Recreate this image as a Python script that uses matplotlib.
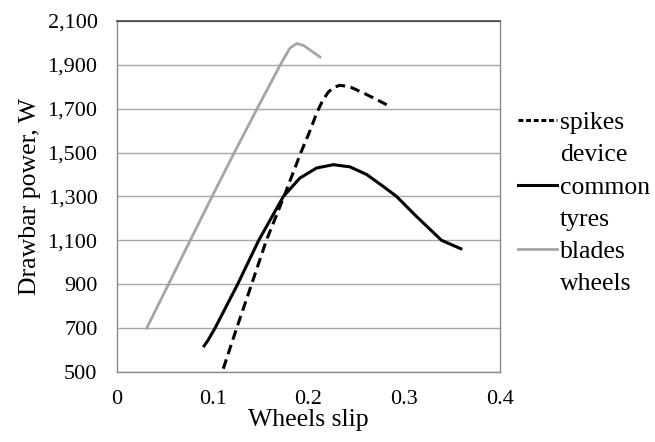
import matplotlib
matplotlib.use("Agg")
import matplotlib.pyplot as plt
from matplotlib.lines import Line2D
from matplotlib.ticker import FuncFormatter

plt.rcParams['font.family'] = ['Liberation Serif', 'DejaVu Serif']

# values
spikes_x = [0.111, 0.125, 0.1406, 0.156, 0.1744, 0.192, 0.2016, 0.2085, 0.2145, 0.2205, 0.2265,
            0.2329, 0.2433, 0.2572, 0.2712, 0.2817]
spikes_y = [515, 700, 900, 1100, 1300, 1500, 1600, 1680, 1735, 1775, 1798,
            1807, 1800, 1772, 1742, 1718]

tyres_x = [0.091, 0.0954, 0.1024, 0.126, 0.148, 0.1737, 0.191, 0.2085, 0.226, 0.2433,
           0.2608, 0.278, 0.292, 0.313, 0.339, 0.359]
tyres_y = [619, 647, 700, 900, 1100, 1300, 1384, 1430, 1445, 1435,
           1400, 1346, 1300, 1208, 1100, 1062]

blades_x = [0.031, 0.0538, 0.0765, 0.0993, 0.1225, 0.1463, 0.1705, 0.1807, 0.1877, 0.195, 0.212]
blades_y = [700, 900, 1100, 1300, 1500, 1700, 1900, 1977, 1997, 1988, 1936]

x_ticks = [0, 0.1, 0.2, 0.3, 0.4]
x_labels = ['0', '0.1', '0.2', '0.3', '0.4']
y_ticks = [500, 700, 900, 1100, 1300, 1500, 1700, 1900, 2100]

fig = plt.figure(figsize=(6.55, 4.42), dpi=100)
ax = fig.add_axes([0.1786, 0.1584, 0.5848, 0.7941])

ax.plot(spikes_x, spikes_y, color='black', lw=2.2, dashes=(3.2, 1.8))
ax.plot(tyres_x, tyres_y, color='black', lw=2.2)
ax.plot(blades_x, blades_y, color='#a5a5a5', lw=2.0)

ax.set_xlim(0, 0.4)
ax.set_ylim(500, 2100)
ax.set_xticks(x_ticks)
ax.set_xticklabels(x_labels)
ax.set_yticks(y_ticks)
ax.yaxis.set_major_formatter(FuncFormatter(lambda v, p: f"{int(v):,}"))
ax.tick_params(axis='both', length=0, labelsize=16)
ax.tick_params(axis='y', pad=14)
ax.tick_params(axis='x', pad=13)
ax.grid(axis='y', color='#a8a8a8', lw=1.0)
ax.set_axisbelow(True)
for s in ['left', 'bottom', 'right']:
    ax.spines[s].set_color('#8a8a8a')
    ax.spines[s].set_linewidth(1.0)
ax.spines['top'].set_color('#404040')
ax.spines['top'].set_linewidth(1.2)

ax.set_xlabel('Wheels slip', fontsize=18.5, labelpad=0)
ax.set_ylabel('Drawbar power, W', fontsize=18.5, labelpad=5)

blank = Line2D([], [], color='none')
handles = [Line2D([], [], color='black', lw=2.2, dashes=(1.6, 0.9)), blank,
           Line2D([], [], color='black', lw=2.2), blank,
           Line2D([], [], color='#a5a5a5', lw=2.0), blank]
labels = ['spikes', 'device', 'common', 'tyres', 'blades', 'wheels']
fig.legend(handles, labels, loc='upper left', bbox_to_anchor=(0.791, 0.748),
           frameon=False, fontsize=18.5, handlelength=1.52, handletextpad=0.12,
           labelspacing=0.355, borderpad=0, borderaxespad=0)

fig.savefig('out.png', dpi=100)
